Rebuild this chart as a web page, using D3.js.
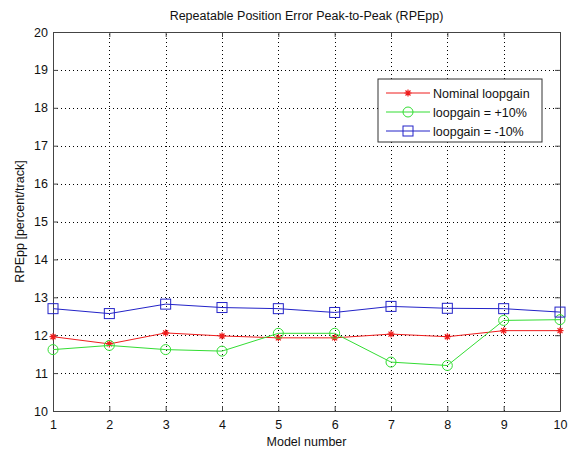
<!DOCTYPE html>
<html>
<head>
<meta charset="utf-8">
<script src="https://cdn.jsdelivr.net/npm/d3@7"></script>
<style>
  body { margin: 0; background: #fff; }
  svg { font-family: "Liberation Sans", Arial, sans-serif; }
</style>
</head>
<body>
<svg width="569" height="451"></svg>
<script>
var models = [1, 2, 3, 4, 5, 6, 7, 8, 9, 10];
var nominal = [11.96, 11.77, 12.06, 11.98, 11.93, 11.93, 12.03, 11.96, 12.12, 12.12];
var plus10 = [11.62, 11.73, 11.62, 11.58, 12.05, 12.05, 11.29, 11.20, 12.39, 12.41];
var minus10 = [12.70, 12.57, 12.82, 12.73, 12.70, 12.60, 12.76, 12.71, 12.70, 12.61];
var yTicks = [10, 11, 12, 13, 14, 15, 16, 17, 18, 19, 20];
var seriesNames = ["Nominal loopgain", "loopgain =  +10%", "loopgain = -10%"];

var svg = d3.select("svg"),
    margin = {left: 53, right: 9, top: 32, bottom: 40},
    width = +svg.attr("width"),
    height = +svg.attr("height"),
    x = d3.scaleLinear().domain([1, 10]).range([margin.left, width - margin.right]),
    y = d3.scaleLinear().domain([10, 20]).range([height - margin.bottom, margin.top]);

var series = [
    {name: seriesNames[0], values: nominal, color: "#ee1c1c", marker: "star"},
    {name: seriesNames[1], values: plus10, color: "#33dd33", marker: "circle"},
    {name: seriesNames[2], values: minus10, color: "#2323c8", marker: "square"}
];

// grid
var grid = svg.append("g").attr("stroke", "#000").attr("stroke-width", 1)
    .attr("stroke-dasharray", "1,3");
grid.selectAll(".gx").data(models.slice(1, -1)).enter().append("line")
    .attr("x1", function(d) { return Math.round(x(d)) + 0.5; })
    .attr("x2", function(d) { return Math.round(x(d)) + 0.5; })
    .attr("y1", y(10)).attr("y2", y(20));
grid.selectAll(".gy").data(yTicks.slice(1, -1)).enter().append("line")
    .attr("y1", function(d) { return Math.round(y(d)) + 0.5; })
    .attr("y2", function(d) { return Math.round(y(d)) + 0.5; })
    .attr("x1", x(1)).attr("x2", x(10));

// axes (ticks inside, MATLAB style)
var xAxis = svg.append("g")
    .attr("transform", "translate(0," + y(10) + ")")
    .call(d3.axisBottom(x).tickValues(models).tickSize(-5).tickPadding(9).tickFormat(d3.format("d")));
var xAxisTop = svg.append("g")
    .attr("transform", "translate(0," + y(20) + ")")
    .call(d3.axisTop(x).tickValues(models).tickSize(-5).tickFormat(""));
var yAxis = svg.append("g")
    .attr("transform", "translate(" + x(1) + ",0)")
    .call(d3.axisLeft(y).tickValues(yTicks).tickSize(-5).tickPadding(5));
var yAxisRight = svg.append("g")
    .attr("transform", "translate(" + x(10) + ",0)")
    .call(d3.axisRight(y).tickValues(yTicks).tickSize(-5).tickFormat(""));

[xAxis, xAxisTop, yAxis, yAxisRight].forEach(function(a) {
    a.selectAll("path").attr("stroke", "#444");
    a.selectAll("line").attr("stroke", "#444");
    a.selectAll("text").attr("fill", "#111").style("font-size", "12.5px")
        .style("font-family", "Liberation Sans, Arial, sans-serif");
});

// lines
var line = d3.line()
    .x(function(d, i) { return x(models[i]); })
    .y(function(d) { return y(d); });

function drawMarker(g, type, color) {
    if (type === "star") {
        g.append("path").attr("d", "M-3.5,0H3.5M0,-3.5V3.5M-2.5,-2.5L2.5,2.5M-2.5,2.5L2.5,-2.5")
            .attr("stroke", color).attr("stroke-width", 1.2).attr("fill", "none");
    } else if (type === "circle") {
        g.append("circle").attr("r", 5).attr("fill", "none").attr("stroke", color).attr("stroke-width", 1);
    } else {
        g.append("rect").attr("x", -5).attr("y", -5).attr("width", 10).attr("height", 10)
            .attr("fill", "none").attr("stroke", color).attr("stroke-width", 1);
    }
}

series.forEach(function(s) {
    svg.append("path").datum(s.values)
        .attr("fill", "none").attr("stroke", s.color).attr("stroke-width", 1)
        .attr("d", line);
    s.values.forEach(function(v, i) {
        var g = svg.append("g").attr("transform", "translate(" + x(models[i]) + "," + y(v) + ")");
        drawMarker(g, s.marker, s.color);
    });
});

// title and labels
svg.append("text").attr("x", (x(1) + x(10)) / 2).attr("y", 20)
    .attr("text-anchor", "middle").style("font-size", "12.5px").attr("fill", "#111")
    .text("Repeatable Position Error Peak-to-Peak (RPEpp)");
svg.append("text").attr("x", (x(1) + x(10)) / 2).attr("y", 446)
    .attr("text-anchor", "middle").style("font-size", "12.5px").attr("fill", "#111")
    .text("Model number");
svg.append("text").attr("transform", "translate(24," + (y(15)) + ") rotate(-90)")
    .attr("text-anchor", "middle").style("font-size", "12.5px").attr("fill", "#111")
    .text("RPEpp [percent/track]");

// legend
var legend = svg.append("g").attr("transform", "translate(378,79)");
legend.append("rect").attr("width", 164).attr("height", 63)
    .attr("fill", "#fff").attr("stroke", "#333").attr("stroke-width", 1);
series.forEach(function(s, i) {
    var ly = 14 + i * 19;
    legend.append("line").attr("x1", 8).attr("x2", 52).attr("y1", ly).attr("y2", ly)
        .attr("stroke", s.color).attr("stroke-width", 1);
    drawMarker(legend.append("g").attr("transform", "translate(30," + ly + ")"), s.marker, s.color);
    legend.append("text").attr("x", 55).attr("y", ly + 4.5)
        .style("font-size", "12.5px").attr("fill", "#111").text(s.name);
});
</script>
</body>
</html>
